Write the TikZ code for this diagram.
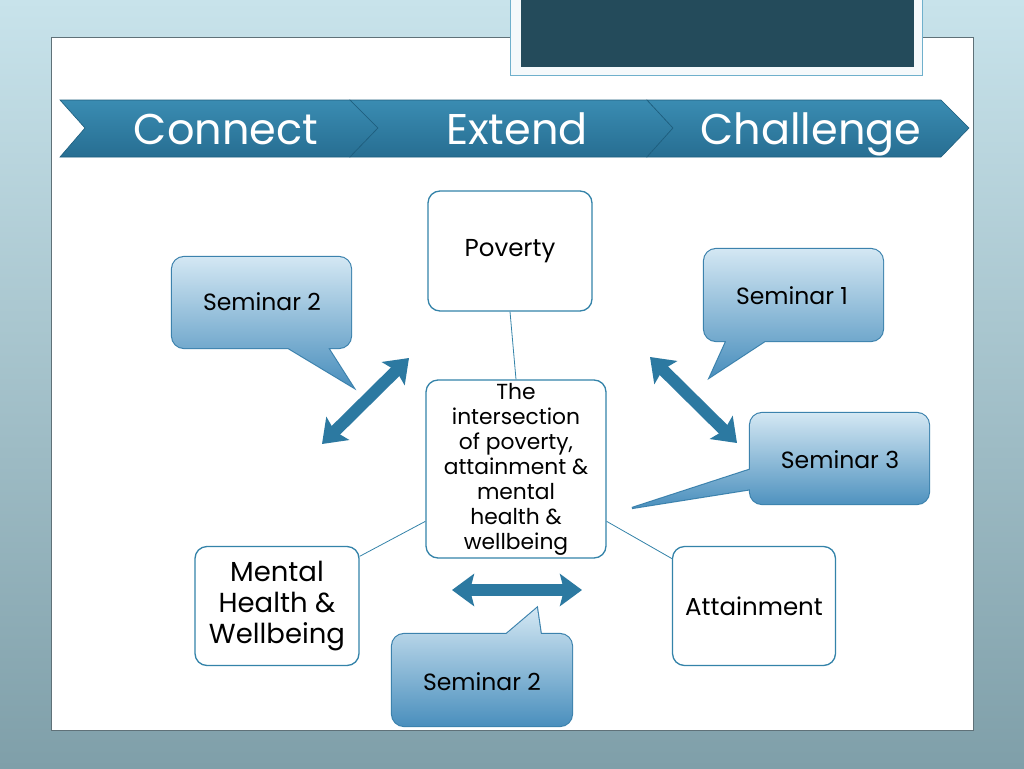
\documentclass[tikz,border=0pt]{standalone}
\usepackage{fontspec}
\setmainfont{Poppins}
\usetikzlibrary{arrows.meta}
\definecolor{bgtop}{HTML}{C8E3EB}
\definecolor{bgbot}{HTML}{7F9FA9}
\definecolor{panelborder}{HTML}{5F7178}
\definecolor{darkbox}{HTML}{244B5B}
\definecolor{frameline}{HTML}{6FB0CC}
\definecolor{chevtop}{HTML}{3A8CB2}
\definecolor{chevbot}{HTML}{276E92}
\definecolor{chevline}{HTML}{1E5E7E}
\definecolor{boxline}{HTML}{3483A9}
\definecolor{calltop}{HTML}{D3E7F3}
\definecolor{callbot}{HTML}{4A8FBD}
\definecolor{callline}{HTML}{3C82AD}
\definecolor{arrowc}{HTML}{2C79A1}
\tikzset{
  chevron/.style={top color=chevtop, bottom color=chevbot, draw=chevline, line width=0.6pt},
  chevtext/.style={text=white, anchor=base, font=\fontsize{43}{50}\selectfont},
  plainbox/.style={draw=boxline, line width=1.3pt, fill=white, rounded corners=12pt, align=center, text=black},
  callout/.style={preaction={draw=callline, line width=2.2pt}, top color=calltop, bottom color=callbot},
  calltext/.style={font=\fontsize{23.5}{28}\selectfont, text=black},
  link/.style={draw=boxline, line width=0.8pt},
  dblarrow/.style={draw=arrowc, line width=12pt, {Stealth[length=22pt,width=32pt,inset=4pt]}-{Stealth[length=22pt,width=32pt,inset=4pt]}}
}
\begin{document}
\begin{tikzpicture}[x=1pt,y=-1pt]
\useasboundingbox (0,0) rectangle (1024,768);
% background
\shade[top color=bgtop, bottom color=bgbot] (0,0) rectangle (1024,768);
% panel
\filldraw[fill=white, draw=panelborder, line width=0.8pt] (51,37) rectangle (973,730);
% title frame
\filldraw[fill=white!93!frameline, draw=frameline, line width=1pt] (510,-2) rectangle (922,75);
\fill[darkbox] (521,-2) rectangle (914,67);
% chevrons
\path[chevron] (60,100) -- (350,100) -- (378,128) -- (350,157) -- (60,157) -- (85,128) -- cycle;
\path[chevron] (350,100) -- (647,100) -- (673,128) -- (647,157) -- (350,157) -- (378,128) -- cycle;
\path[chevron] (647,100) -- (941,100) -- (969,128) -- (941,157) -- (647,157) -- (673,128) -- cycle;
\node[chevtext] (connect) at (226,144) {Connect};
\node[chevtext] (extend) at (517,144) {Extend};
\node[chevtext] (challenge) at (811,144) {Challenge};
% boxes
\node[plainbox, minimum width=164pt, minimum height=120pt, font=\fontsize{24.5}{28}\selectfont] (poverty) at (510,251) {Poverty};
\node[plainbox, minimum width=180pt, minimum height=178pt, inner sep=0pt, font=\fontsize{21.8}{25}\selectfont] (center) at (516,469) {The\\intersection\\of poverty,\\attainment \&\\mental\\health \&\\wellbeing};
\node[plainbox, minimum width=164pt, minimum height=119pt, font=\fontsize{27.5}{31}\selectfont] (mental) at (277,606) {Mental\\Health \&\\Wellbeing};
\node[plainbox, minimum width=163pt, minimum height=119pt, font=\fontsize{24.5}{28}\selectfont] (attain) at (754,606) {Attainment};
% connectors
\draw[link] (poverty.south) -- (center.north);
\draw[link] (center.210) -- (mental.31);
\draw[link] (center.330) -- (attain.150);
% callouts
\path[callout] [rounded corners=12pt] (172,257) -- (351,257) -- (351,348) -- (172,348) -- cycle
  [sharp corners] (323,340) -- (353,387) -- (275,340) -- cycle;
\node[calltext] (semA) at (262,302) {Seminar 2};
\path[callout] [rounded corners=12pt] (704,249) -- (883,249) -- (883,341) -- (704,341) -- cycle
  [sharp corners] (777,333) -- (710,377) -- (730,333) -- cycle;
\node[calltext] (semB) at (792,296) {Seminar 1};
\path[callout] [rounded corners=12pt] (750,413) -- (929,413) -- (929,504) -- (750,504) -- cycle
  [sharp corners] (758,467) -- (758,488) -- (632,508) -- cycle;
\node[calltext] (semC) at (840,460) {Seminar 3};
\path[callout] [rounded corners=12pt] (392,634) -- (572,634) -- (572,726) -- (392,726) -- cycle
  [sharp corners] (497,642) -- (537,608) -- (542,642) -- cycle;
\node[calltext] (semD) at (482,682) {Seminar 2};
% double arrows
\coordinate (la) at (322,444); \coordinate (lb) at (409,358);
\coordinate (ra) at (650,357); \coordinate (rb) at (737,443);
\coordinate (ha) at (452,590); \coordinate (hb) at (582,590);
\draw[dblarrow] (la) -- (lb);
\draw[dblarrow] (ra) -- (rb);
\draw[dblarrow] (ha) -- (hb);
\end{tikzpicture}
\end{document}
